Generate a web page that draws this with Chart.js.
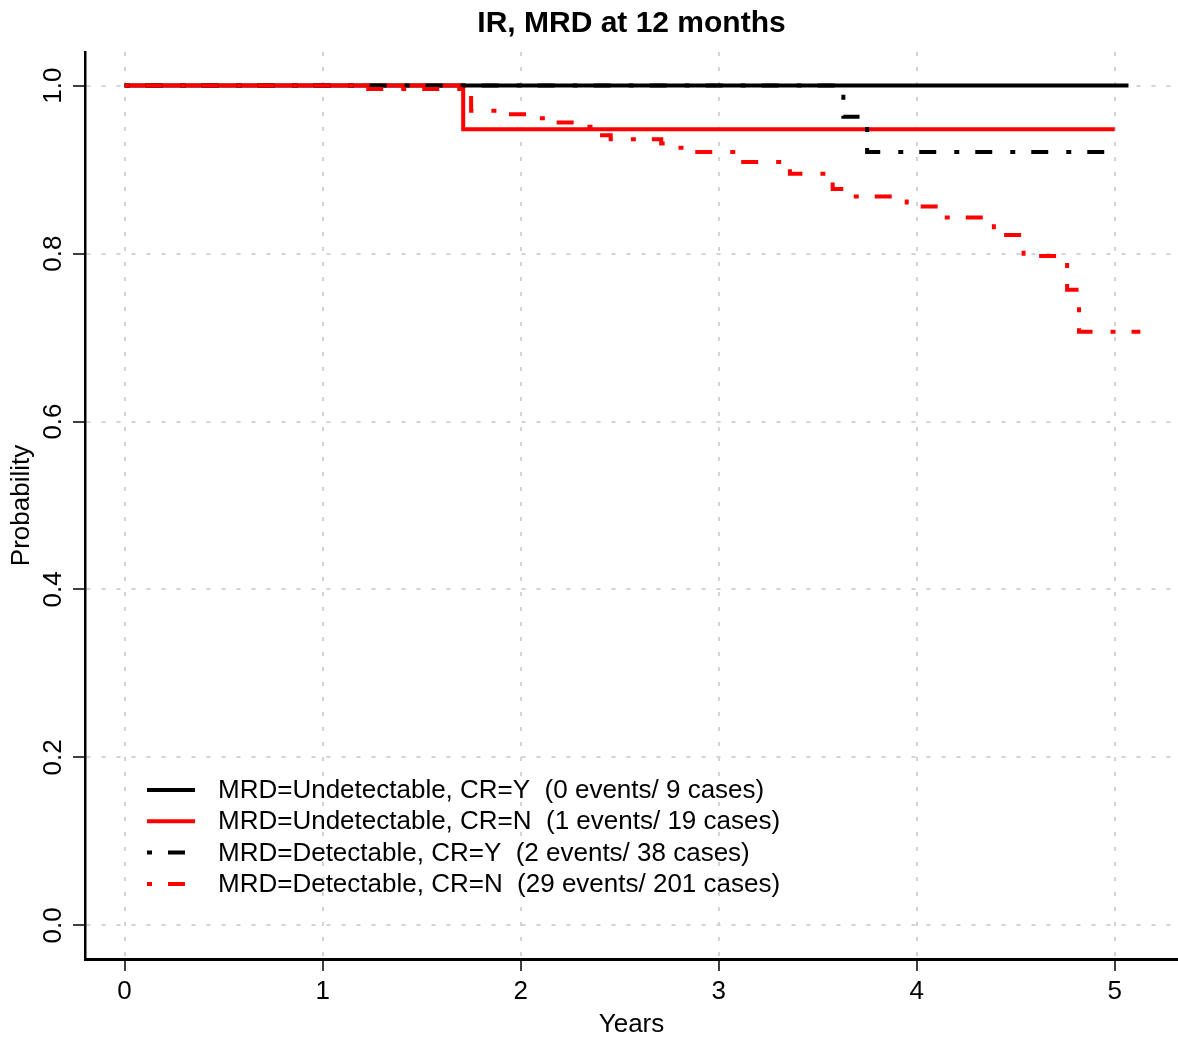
<!DOCTYPE html>
<html>
<head>
<meta charset="utf-8">
<script src="https://cdn.jsdelivr.net/npm/chart.js@4.4.0/dist/chart.umd.min.js"></script>
<style>
  html, body { margin: 0; padding: 0; background: #fff; }
  #wrap { width: 1178px; height: 1040px; }
</style>
</head>
<body>
<div id="wrap"><canvas id="myChart" width="1178" height="1040"></canvas></div>
<script>
// Kaplan-Meier curves, IR, MRD at 12 months (times in years, step value after each time)
const seriesNames = [
    'MRD=Undetectable, CR=Y  (0 events/ 9 cases)',
    'MRD=Undetectable, CR=N  (1 events/ 19 cases)',
    'MRD=Detectable, CR=Y  (2 events/ 38 cases)',
    'MRD=Detectable, CR=N  (29 events/ 201 cases)'
];

const undetY_t = [0, 5.07];
const undetY_p = [1, 1];

const undetN_t = [0, 1.71, 5.0];
const undetN_p = [1, 0.948, 0.948];

const detY_t = [0, 3.63, 3.75, 5.02];
const detY_p = [1, 0.963, 0.921, 0.921];

const detN_t = [0, 1.22, 1.75, 1.90, 2.06, 2.14, 2.29, 2.38, 2.455, 2.71, 2.76, 2.84,
                3.09, 3.36, 3.576, 3.66, 3.95, 4.12, 4.39, 4.54, 4.76, 4.82, 5.13];
const detN_p = [1, 0.996, 0.970, 0.966, 0.961, 0.956, 0.951, 0.941, 0.936, 0.931, 0.926, 0.921,
                0.909, 0.895, 0.877, 0.868, 0.856, 0.843, 0.822, 0.797, 0.757, 0.707, 0.707];

const xTicks = [0, 1, 2, 3, 4, 5];
const yTicks = [0, 0.2, 0.4, 0.6, 0.8, 1.0];

function toPoints(ts, ps) {
    return ts.map((t, i) => ({x: t, y: ps[i]}));
}

const FONT = '"Liberation Sans", Arial, sans-serif';
const dotDash = [5, 16, 17, 18];

// legend drawn inside the plot, bottom left like the R original
const kmLegend = {
    id: 'kmLegend',
    afterDatasetsDraw(chart) {
        const ctx = chart.ctx;
        const area = chart.chartArea;
        chart.data.datasets.forEach((ds, i) => {
            const y = area.bottom - 169 + i * 31.3;
            ctx.save();
            ctx.strokeStyle = ds.borderColor;
            ctx.lineWidth = ds.borderWidth;
            ctx.setLineDash(ds.borderDash || []);
            ctx.beginPath();
            ctx.moveTo(area.left + 62, y);
            ctx.lineTo(area.left + 110, y);
            ctx.stroke();
            ctx.setLineDash([]);
            ctx.fillStyle = '#000';
            ctx.font = '26px ' + FONT;
            ctx.textBaseline = 'middle';
            ctx.fillText(seriesNames[i], area.left + 133, y + 1);
            ctx.restore();
        });
    }
};

const ctx = document.getElementById('myChart').getContext('2d');
const chart = new Chart(ctx, {
    type: 'line',
    data: {
        datasets: [
            {
                label: seriesNames[0],
                data: toPoints(undetY_t, undetY_p),
                borderColor: '#000000',
                borderWidth: 4,
                order: 4
            },
            {
                label: seriesNames[1],
                data: toPoints(undetN_t, undetN_p),
                borderColor: '#ff0000',
                borderWidth: 4,
                order: 3
            },
            {
                label: seriesNames[2],
                data: toPoints(detY_t, detY_p),
                borderColor: '#000000',
                borderWidth: 4,
                borderDash: dotDash,
                order: 2
            },
            {
                label: seriesNames[3],
                data: toPoints(detN_t, detN_p),
                borderColor: '#ff0000',
                borderWidth: 4,
                borderDash: dotDash,
                order: 1
            }
        ]
    },
    options: {
        responsive: false,
        animation: false,
        events: [],
        elements: {
            point: { radius: 0 },
            line: { stepped: 'before', tension: 0, borderCapStyle: 'butt', fill: false }
        },
        layout: { padding: 0 },
        scales: {
            x: {
                type: 'linear',
                min: -0.2,
                max: 5.32,
                afterBuildTicks: (scale) => { scale.ticks = xTicks.map(v => ({value: v})); },
                afterFit: (scale) => { scale.height = 81; },
                ticks: {
                    color: '#000',
                    font: { family: FONT, size: 26 },
                    padding: 5,
                    maxRotation: 0,
                    callback: (v) => String(v)
                },
                grid: {
                    color: '#d3d3d3',
                    lineWidth: 2,
                    tickColor: '#000',
                    tickLength: 12,
                    tickWidth: 1.5,
                    tickBorderDash: []
                },
                border: { display: true, color: '#000', width: 3, dash: [4, 11] },
                title: {
                    display: true,
                    text: 'Years',
                    color: '#000',
                    font: { family: FONT, size: 26 },
                    padding: { top: 0, bottom: 0 }
                }
            },
            y: {
                type: 'linear',
                min: -0.04,
                max: 1.04,
                afterBuildTicks: (scale) => { scale.ticks = yTicks.map(v => ({value: v})); },
                afterFit: (scale) => { scale.width = 85; },
                ticks: {
                    color: '#000',
                    font: { family: FONT, size: 26 },
                    padding: 1,
                    minRotation: 90,
                    maxRotation: 90,
                    crossAlign: 'center',
                    callback: (v) => v.toFixed(1)
                },
                grid: {
                    color: '#d3d3d3',
                    lineWidth: 2,
                    tickColor: '#000',
                    tickLength: 12,
                    tickWidth: 1.5,
                    tickBorderDash: []
                },
                border: { display: true, color: '#000', width: 2.5, dash: [4, 11] },
                title: {
                    display: true,
                    text: 'Probability',
                    color: '#000',
                    font: { family: FONT, size: 26 },
                    padding: { top: 6, bottom: 0 }
                }
            }
        },
        plugins: {
            legend: { display: false },
            tooltip: { enabled: false },
            title: {
                display: true,
                text: 'IR, MRD at 12 months',
                color: '#000',
                fullSize: false,
                font: { family: FONT, size: 30, weight: 'bold' },
                padding: { top: 6, bottom: 10 }
            }
        }
    },
    plugins: [kmLegend]
});
</script>
</body>
</html>
